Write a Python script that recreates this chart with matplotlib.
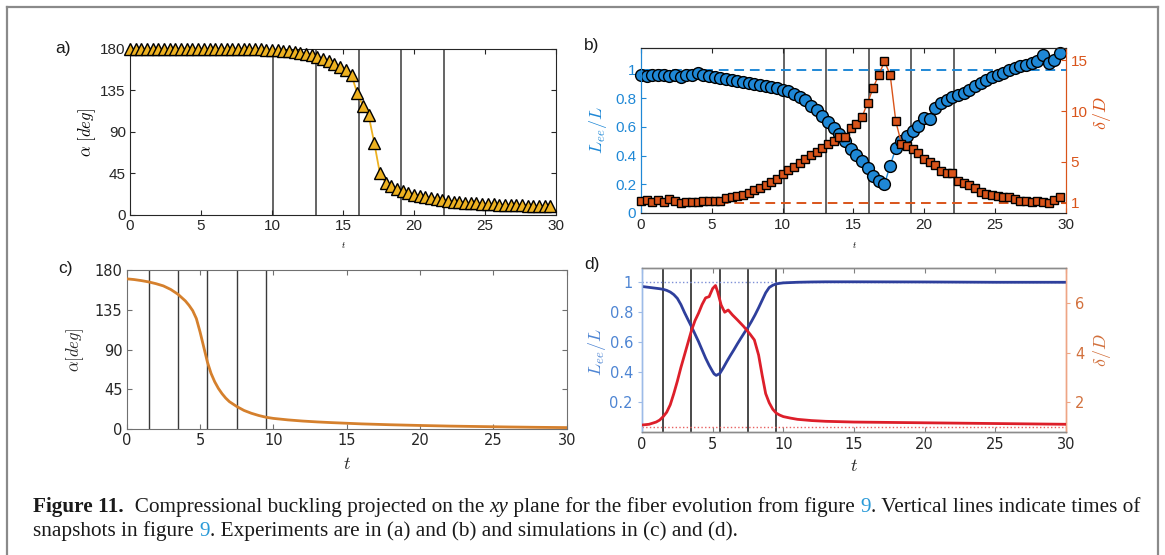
import numpy as np
import matplotlib
matplotlib.use('Agg')
import matplotlib.pyplot as plt
from matplotlib.lines import Line2D

plt.rcParams['mathtext.fontset'] = 'cm'

# ---------------- data ----------------
t_exp = [0.0, 0.4, 0.8, 1.2, 1.6, 2.0, 2.4, 2.8, 3.2, 3.6, 4.0, 4.4, 4.8, 5.2, 5.6,
         6.0, 6.4, 6.8, 7.2, 7.6, 8.0, 8.4, 8.8, 9.2, 9.6, 10.0, 10.4, 10.8, 11.2, 11.6,
         12.0, 12.4, 12.8, 13.2, 13.6, 14.0, 14.4, 14.8, 15.2, 15.6, 16.0, 16.4, 16.8, 17.2, 17.6,
         18.0, 18.4, 18.8, 19.2, 19.6, 20.0, 20.4, 20.8, 21.2, 21.6, 22.0, 22.4, 22.8, 23.2, 23.6,
         24.0, 24.4, 24.8, 25.2, 25.6, 26.0, 26.4, 26.8, 27.2, 27.6, 28.0, 28.4, 28.8, 29.2, 29.6]

alpha_exp = [179, 179, 179, 179, 179, 179, 179, 179, 179, 179, 179, 179, 179, 179, 179,
             179, 179, 179, 179, 179, 179, 179, 179, 179, 178.5, 178.5, 178, 177.5, 177, 176,
             175, 174, 172.5, 171, 169, 166.5, 163.5, 160, 156.5, 151, 132, 118, 108, 78, 45,
             35, 31, 28.5, 26, 24, 22, 20.5, 19, 18, 17, 16, 15, 14.5, 14, 13.5,
             13, 12.5, 12, 11.7, 11.4, 11.1, 10.9, 10.7, 10.5, 10.3, 10.1, 10, 9.8, 9.7, 9.5]

lee_exp = [0.96, 0.955, 0.965, 0.96, 0.965, 0.955, 0.96, 0.95, 0.965, 0.96, 0.975, 0.965, 0.955, 0.948, 0.94,
           0.935, 0.93, 0.922, 0.916, 0.91, 0.90, 0.893, 0.886, 0.878, 0.87, 0.86, 0.848, 0.83, 0.81, 0.785,
           0.745, 0.715, 0.675, 0.635, 0.59, 0.55, 0.50, 0.445, 0.405, 0.36, 0.31, 0.26, 0.22, 0.20, 0.33,
           0.45, 0.50, 0.535, 0.57, 0.605, 0.66, 0.655, 0.735, 0.765, 0.79, 0.81, 0.825, 0.84, 0.86, 0.885,
           0.91, 0.93, 0.95, 0.965, 0.98, 0.995, 1.01, 1.025, 1.035, 1.045, 1.06, 1.105, 1.05, 1.07, 1.115]

delta_exp = [1.2, 1.25, 1.1, 1.3, 1.05, 1.35, 1.15, 1.0, 1.1, 1.05, 1.1, 1.15, 1.15, 1.2, 1.2,
             1.4, 1.5, 1.6, 1.75, 1.95, 2.2, 2.45, 2.7, 3.0, 3.35, 3.8, 4.2, 4.55, 4.9, 5.25,
             5.65, 6.0, 6.4, 6.75, 7.1, 7.5, 7.45, 8.3, 8.7, 9.4, 10.8, 12.3, 13.6, 14.9, 13.6,
             9.0, 6.8, 6.6, 6.3, 5.9, 5.3, 5.0, 4.7, 4.1, 3.95, 3.9, 3.1, 2.95, 2.7, 2.4,
             2.05, 1.85, 1.75, 1.65, 1.55, 1.5, 1.35, 1.2, 1.15, 1.1, 1.2, 1.1, 1.0, 1.3, 1.5]

snap_exp = [10.1, 13.1, 16.1, 19.1, 22.1]
snap_sim = [1.5, 3.5, 5.5, 7.5, 9.5]

t_alpha_sim = [0, 0.5, 1, 1.5, 2, 2.5, 3, 3.5, 4, 4.25, 4.5, 4.75, 5, 5.25, 5.5, 5.75, 6, 6.25,
               6.5, 6.75, 7, 7.5, 8, 8.5, 9, 9.5, 10, 11, 12, 13, 14, 15, 16, 18, 20, 22, 24, 26, 28, 30]
alpha_sim = [170, 169.2, 168, 166.5, 164.5, 162, 158, 152.5, 145, 140, 134, 125, 110, 93, 76, 63, 53.5, 46,
             40, 35, 31, 25.5, 21, 17.8, 15.3, 13.3, 12, 10.3, 9, 8, 7.2, 6.5, 5.8, 4.8, 4, 3.3, 2.8, 2.3, 1.9, 1.6]

t_lee_sim = [0, 0.5, 1, 1.25, 1.5, 1.75, 2, 2.25, 2.5, 2.75, 3, 3.25, 3.5, 3.75, 4, 4.25, 4.5, 4.75,
             5, 5.1, 5.25, 5.5, 5.75, 6, 6.25, 6.5, 6.75, 7, 7.25, 7.5, 7.75, 8, 8.25, 8.5, 8.75,
             9, 9.25, 9.5, 9.75, 10, 10.5, 11, 12, 13, 15, 20, 25, 30]
lee_sim = [0.972, 0.966, 0.960, 0.957, 0.953, 0.946, 0.935, 0.918, 0.893, 0.852, 0.800, 0.752, 0.705,
           0.655, 0.605, 0.550, 0.495, 0.447, 0.405, 0.390, 0.380, 0.392, 0.430, 0.472, 0.512, 0.550,
           0.590, 0.628, 0.665, 0.700, 0.740, 0.783, 0.830, 0.880, 0.930, 0.965, 0.980, 0.989, 0.993,
           0.996, 0.998, 1.000, 1.002, 1.003, 1.003, 1.002, 1.000, 1.000]

t_delta_sim = [0, 0.5, 1, 1.25, 1.5, 1.75, 2, 2.25, 2.5, 2.75, 3, 3.25, 3.5, 3.75, 4, 4.25, 4.5, 4.75,
               5, 5.2, 5.35, 5.6, 5.85, 6.1, 6.4, 6.75, 7.2, 7.65, 7.95, 8.25, 8.5, 8.75, 9,
               9.25, 9.5, 9.75, 10, 10.5, 11, 12, 13, 15, 20, 25, 30]
delta_sim = [1.08, 1.11, 1.2, 1.28, 1.42, 1.6, 1.9, 2.35, 2.85, 3.4, 3.9, 4.4, 4.9, 5.3, 5.6, 5.95, 6.22,
             6.27, 6.6, 6.72, 6.47, 5.93, 5.64, 5.73, 5.53, 5.33, 5.06, 4.75, 4.52, 3.91, 3.1, 2.35, 1.98,
             1.72, 1.56, 1.48, 1.42, 1.36, 1.31, 1.26, 1.23, 1.2, 1.17, 1.14, 1.11]

x_ticks = [0, 5, 10, 15, 20, 25, 30]
alpha_ticks = [0, 45, 90, 135, 180]
lee_ticks_b = [0, 0.2, 0.4, 0.6, 0.8, 1]
delta_ticks_b = [1, 5, 10, 15]
lee_ticks_d = [0.2, 0.4, 0.6, 0.8, 1]
delta_ticks_d = [2, 4, 6]

# ---------------- figure ----------------
W, H = 1165, 555
fig = plt.figure(figsize=(W / 100, H / 100), dpi=100)


def rect(x0, y0, x1, y1):
    return [x0 / W, 1 - y1 / H, (x1 - x0) / W, (y1 - y0) / H]


def fx(x):
    return x / W


def fy(y):
    return 1 - y / H


SANS = 'Liberation Sans'
DJ = 'DejaVu Sans'
VCOL = '#3a3a3a'

yellow = '#EDB120'
blue_b = '#1F88D6'
orange_b = '#D9541A'

# ---------- panel a ----------
axa = fig.add_axes(rect(130, 48.5, 556, 215))
for tv in snap_exp:
    axa.axvline(tv, color=VCOL, lw=1.1, zorder=1)
axa.plot(t_exp, alpha_exp, '-^', color=yellow, mfc=yellow, mec='black', ms=9, mew=1.0,
         lw=1.3, clip_on=False, zorder=3)
axa.set_xlim(0, 30)
axa.set_ylim(0, 180)
axa.set_xticks(x_ticks)
axa.set_yticks(alpha_ticks)
axa.tick_params(direction='in', top=True, right=True, length=3.5, width=0.8, labelsize=11,
                colors='#262626', pad=3)
for s in axa.spines.values():
    s.set_color('#262626')
    s.set_linewidth(0.8)
for lab in axa.get_xticklabels() + axa.get_yticklabels():
    lab.set_family(SANS)

# ---------- panel b ----------
axb = fig.add_axes(rect(641, 48.3, 1065.7, 212.7))
axb2 = axb.twinx()
for tv in snap_exp:
    axb.axvline(tv, color=VCOL, lw=1.1, zorder=1)
axb.axhline(1, color=blue_b, ls=(0, (5, 3)), lw=1.4, zorder=1.5)
axb.plot(t_exp, lee_exp, '-o', color=blue_b, mfc=blue_b, mec='black', ms=8.5, mew=1.0, lw=1.0,
         clip_on=False, zorder=3)
axb2.axhline(1, color=orange_b, ls=(0, (5, 3)), lw=1.4, zorder=1.5)
axb2.plot(t_exp, delta_exp, '-s', color=orange_b, mfc=orange_b, mec='black', ms=6.3, mew=1.0, lw=1.0,
          clip_on=False, zorder=3)
axb.set_xlim(0, 30)
axb.set_ylim(0, 1.15)
axb2.set_ylim(0, 16.2)
axb.set_xticks(x_ticks)
axb.set_yticks(lee_ticks_b)
axb.set_yticklabels(['0', '0.2', '0.4', '0.6', '0.8', '1'])
axb2.set_yticks(delta_ticks_b)
axb.tick_params(axis='x', direction='in', top=True, length=3.5, width=0.8, labelsize=11,
                colors='#262626')
axb.tick_params(axis='y', direction='in', length=3.5, width=0.8, labelsize=11, colors=blue_b)
axb2.tick_params(axis='y', direction='in', length=3.5, width=0.8, labelsize=11, colors=orange_b)
for a in (axb, axb2):
    for k, s in a.spines.items():
        s.set_linewidth(0.8)
        s.set_color('#262626')
    a.spines['left'].set_color(blue_b)
    a.spines['right'].set_color(orange_b)
for lab in axb.get_xticklabels() + axb.get_yticklabels() + axb2.get_yticklabels():
    lab.set_family(SANS)

# ---------- panel c ----------
axc = fig.add_axes(rect(126.7, 270, 566.7, 429))
for tv in snap_sim:
    axc.axvline(tv, color=VCOL, lw=1.0, zorder=1)
axc.plot(t_alpha_sim, alpha_sim, '-', color='#D5802D', lw=2.0, zorder=3)
axc.set_xlim(0, 30)
axc.set_ylim(0, 180)
axc.set_xticks(x_ticks)
axc.set_yticks(alpha_ticks)
axc.tick_params(direction='in', top=True, right=True, length=3.5, width=0.8, labelsize=10.5,
                color='#707070', labelcolor='#262626', pad=3)
for s in axc.spines.values():
    s.set_color('#707070')
    s.set_linewidth(0.8)
for lab in axc.get_xticklabels() + axc.get_yticklabels():
    lab.set_family(DJ)

# ---------- panel d ----------
blue_d = '#2E3F9C'
red_d = '#DD1F2A'
lblue_d = '#4E85D3'
lorange_d = '#D2703C'
axd = fig.add_axes(rect(642, 267.7, 1066, 431.7))
axd2 = axd.twinx()
for tv in snap_sim:
    axd.axvline(tv, color=VCOL, lw=1.3, zorder=1)
axd.axhline(1, color='#7d8fd6', ls=':', lw=1.0, zorder=1.5)
axd.plot(t_lee_sim, lee_sim, '-', color=blue_d, lw=2.0, zorder=3)
axd2.axhline(1, color='#e86060', ls=':', lw=1.0, zorder=1.5)
axd2.plot(t_delta_sim, delta_sim, '-', color=red_d, lw=2.0, zorder=3)
axd.set_xlim(0, 30)
axd.set_ylim(0.005, 1.097)
axd2.set_ylim(0.81, 7.44)
axd.set_xticks(x_ticks)
axd.set_yticks(lee_ticks_d)
axd.set_yticklabels(['0.2', '0.4', '0.6', '0.8', '1'])
axd2.set_yticks(delta_ticks_d)
axd.tick_params(axis='x', direction='in', top=True, length=3.5, width=0.8, labelsize=10.5,
                color='#808080', labelcolor='#262626')
axd.tick_params(axis='y', direction='out', length=3, width=0.8, labelsize=10.5,
                color='#9dbbe8', labelcolor=lblue_d)
axd2.tick_params(axis='y', direction='out', length=3, width=0.8, labelsize=10.5,
                 color='#eea585', labelcolor=lorange_d)
for a in (axd, axd2):
    for k, s in a.spines.items():
        s.set_linewidth(1.0)
        s.set_color('#8c8c8c')
    a.spines['left'].set_color('#9dbbe8')
    a.spines['right'].set_color('#eea585')
for lab in axd.get_xticklabels() + axd.get_yticklabels() + axd2.get_yticklabels():
    lab.set_family(DJ)

# ---------- axis labels ----------
fig.text(fx(87.5), fy(132), r'$\alpha\ [deg]$', rotation=90, ha='center', va='center', fontsize=12)
fig.text(fx(343), fy(245), r'$t$', ha='center', va='center', fontsize=6.5)
fig.text(fx(598), fy(130), r'$L_{ee}/L$', rotation=90, ha='center', va='center', fontsize=13,
         color=blue_b)
fig.text(fx(1102), fy(113), r'$\delta/D$', rotation=90, ha='center', va='center', fontsize=13,
         color=orange_b)
fig.text(fx(854), fy(245), r'$t$', ha='center', va='center', fontsize=6.5)

fig.text(fx(75), fy(350), r'$\alpha[deg]$', rotation=90, ha='center', va='center', fontsize=12,
         color='#262626')
fig.text(fx(346.7), fy(464), r'$t$', ha='center', va='center', fontsize=13, color='#262626')
fig.text(fx(597), fy(352), r'$L_{ee}/L$', rotation=90, ha='center', va='center', fontsize=13,
         color=lblue_d)
fig.text(fx(1102), fy(350), r'$\delta/D$', rotation=90, ha='center', va='center', fontsize=13,
         color=lorange_d)
fig.text(fx(854), fy(466), r'$t$', ha='center', va='center', fontsize=13, color='#262626')

# ---------- panel letters ----------
for txt, x, y in (('a)', 55, 49), ('b)', 584, 45), ('c)', 58, 268), ('d)', 584, 265)):
    fig.text(fx(x), fy(y), txt, ha='left', va='center', fontsize=12.5, family=SANS, color='#1a1a1a')

# ---------- frame ----------
fcol = '#8a8a8a'
fig.add_artist(Line2D([fx(7), fx(7)], [fy(7), 0], color=fcol, lw=1.6))
fig.add_artist(Line2D([fx(1158), fx(1158)], [fy(7), 0], color=fcol, lw=1.6))
fig.add_artist(Line2D([fx(7), fx(1158)], [fy(7), fy(7)], color=fcol, lw=1.6))

# ---------- caption ----------
link = '#2a9ad8'
line1 = [('Figure 11.', dict(weight='bold')),
         ('  Compressional buckling projected on the ', {}),
         ('xy', dict(style='italic')),
         (' plane for the fiber evolution from figure ', {}),
         ('9', dict(color=link)),
         ('. Vertical lines indicate times of', {})]
line2 = [('snapshots in figure ', {}),
         ('9', dict(color=link)),
         ('. Experiments are in (a) and (b) and simulations in (c) and (d).', {})]

renderer = fig.canvas.get_renderer()


def draw_runs(runs, x0, yb, size):
    x = x0
    arts = []
    for s, kw in runs:
        t = fig.text(x / W, fy(yb), s, fontsize=size, va='baseline', ha='left',
                     family='Liberation Serif', color=kw.get('color', '#1a1a1a'),
                     weight=kw.get('weight', 'normal'), style=kw.get('style', 'normal'))
        bb = t.get_window_extent(renderer)
        x = bb.x1
        arts.append(t)
    return x, arts


size0 = 13.0
xend, arts = draw_runs(line1, 33, 512, size0)
for a in arts:
    a.remove()
size = size0 * (1133 - 33) / (xend - 33)
draw_runs(line1, 33, 512, size)
draw_runs(line2, 33, 536, size)

fig.savefig('out.png', dpi=100)
